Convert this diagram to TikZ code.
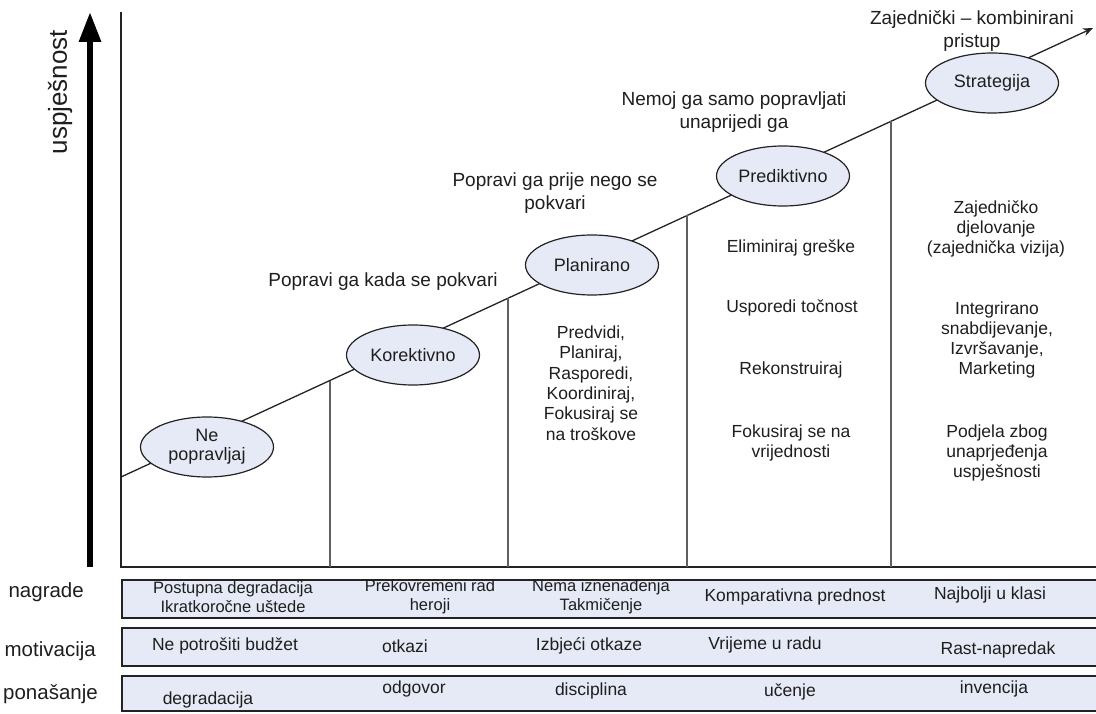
\documentclass[tikz,border=0pt]{standalone}
\usepackage{fontspec}
\setmainfont{Liberation Sans}
\usetikzlibrary{shapes.geometric,arrows.meta}
\definecolor{fillc}{RGB}{230,234,246}
\definecolor{linec}{RGB}{35,35,35}
\definecolor{textc}{RGB}{30,30,30}
\begin{document}
\begin{tikzpicture}[x=1pt,y=-1pt,
  stage/.style={ellipse, draw=linec, line width=1.2pt, fill=fillc, minimum width=133pt, minimum height=60pt, inner sep=0pt, font=\fontsize{18}{21}\selectfont, align=center, text=textc},
  lbl/.style={font=\fontsize{19}{23}\selectfont, align=center, inner sep=0pt, text=textc},
  coltext/.style={font=\fontsize{17.5}{20.3}\selectfont, align=center, inner sep=0pt, text=textc},
  rowbox/.style={draw=linec, line width=1.8pt, fill=fillc, anchor=north west, minimum width=990pt, inner sep=0pt},
  rowtext/.style={font=\fontsize{17.5}{20}\selectfont, align=center, inner sep=0pt, text=textc},
  sidelabel/.style={font=\fontsize{20.5}{24}\selectfont, anchor=east, inner sep=0pt, text=textc},
  divider/.style={draw=gray!75!black, line width=1.4pt},
  frame/.style={draw=linec, line width=1.5pt}]
\useasboundingbox (0,0) rectangle (1096,714);

% axis arrow and label
\coordinate (ab) at (90,567);
\coordinate (at) at (90,12);
\draw[line width=6pt, -{Triangle[length=30pt,width=21pt]}] (ab) -- (at);
\node[rotate=90, font=\fontsize{26}{30}\selectfont, inner sep=0pt, text=textc] (ylab) at (60,92) {uspješnost};

% frame
\coordinate (ftl) at (121,12);
\coordinate (fbl) at (121,567);
\coordinate (fbr) at (1100,567);
\draw[frame] (ftl) -- (fbl) -- (fbr);

% diagonal
\coordinate (ds) at (121,477);
\coordinate (de) at (1093,28);
\draw[draw=linec, line width=1.3pt, -{Stealth[length=10pt,width=8pt]}] (ds) -- (de);

% dividers
\coordinate (d1t) at (330,380.5); \coordinate (d1b) at (330,567);
\coordinate (d2t) at (508,298);   \coordinate (d2b) at (508,567);
\coordinate (d3t) at (687,215.5); \coordinate (d3b) at (687,567);
\coordinate (d4t) at (891,121.5); \coordinate (d4b) at (891,567);
\draw[divider] (d1t) -- (d1b);
\draw[divider] (d2t) -- (d2b);
\draw[divider] (d3t) -- (d3b);
\draw[divider] (d4t) -- (d4b);

% stages
\node[stage] (s1) at (207,447) {Ne\\[-2pt]popravljaj};
\node[stage] (s2) at (413,355) {Korektivno};
\node[stage] (s3) at (592,265) {Planirano};
\node[stage] (s4) at (783,176) {Prediktivno};
\node[stage] (s5) at (992,83) {Strategija};

% headline texts
\node[lbl] (h2) at (383,282) {Popravi ga kada se pokvari};
\node[lbl] (h3) at (555,193) {Popravi ga prije nego se\\pokvari};
\node[lbl] (h4) at (734,112) {Nemoj ga samo popravljati\\unaprijedi ga};
\node[lbl] (h5) at (972,31) {Zajednički – kombinirani\\pristup};

% column texts
\node[coltext] (c3) at (591,383) {Predvidi,\\Planiraj,\\Rasporedi,\\Koordiniraj,\\Fokusiraj se\\na troškove};
\node[coltext] (c4a) at (791,248) {Eliminiraj greške};
\node[coltext] (c4b) at (792,308) {Usporedi točnost};
\node[coltext] (c4c) at (791,370) {Rekonstruiraj};
\node[coltext] (c4d) at (791,443) {Fokusiraj se na\\vrijednosti};
\node[coltext] (c5a) at (996,229) {Zajedničko\\djelovanje\\(zajednička vizija)};
\node[coltext] (c5b) at (997,340) {Integrirano\\snabdijevanje,\\Izvršavanje,\\Marketing};
\node[coltext] (c5c) at (997,453) {Podjela zbog\\unaprjeđenja\\uspješnosti};

% bottom rows
\node[rowbox, minimum height=38pt] (r1) at (121,579) {};
\node[rowbox, minimum height=38pt] (r2) at (121,627) {};
\node[rowbox, minimum height=35pt] (r3) at (121,675) {};

\node[sidelabel] (l1) at (84,592) {nagrade};
\node[sidelabel] (l2) at (96,651) {motivacija};
\node[sidelabel] (l3) at (98,694) {ponašanje};

\node[rowtext, font=\fontsize{16.5}{19}\selectfont] (t11) at (233,597) {Postupna degradacija\\Ikratkoročne uštede};
\node[rowtext, font=\fontsize{16.5}{19}\selectfont] (t12) at (430,597) {Prekovremeni rad\\heroji};
\node[rowtext, font=\fontsize{16.5}{19}\selectfont] (t13) at (601,597) {Nema iznenađenja\\Takmičenje};
\node[rowtext] (t14) at (795,597) {Komparativna prednost};
\node[rowtext] (t15) at (990,595) {Najbolji u klasi};

\node[rowtext] (t21) at (225,646) {Ne potrošiti budžet};
\node[rowtext] (t22) at (405,646) {otkazi};
\node[rowtext] (t23) at (589,646) {Izbjeći otkaze};
\node[rowtext] (t24) at (765,645) {Vrijeme u radu};
\node[rowtext] (t25) at (998,650) {Rast-napredak};

\node[rowtext] (t31) at (208,700) {degradacija};
\node[rowtext] (t32) at (414,689) {odgovor};
\node[rowtext] (t33) at (591,691) {disciplina};
\node[rowtext] (t34) at (790,692) {učenje};
\node[rowtext] (t35) at (994,689) {invencija};
\end{tikzpicture}
\end{document}
